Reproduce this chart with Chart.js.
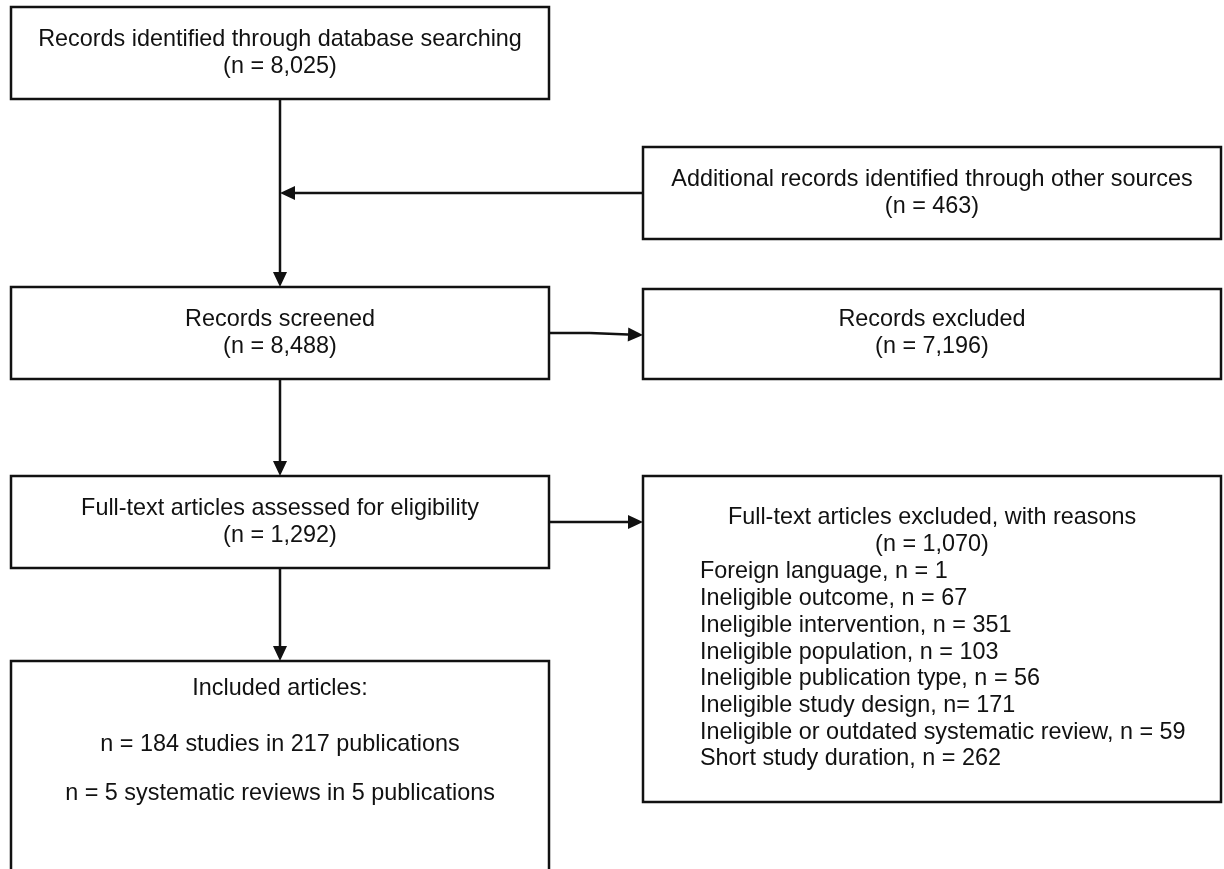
<!DOCTYPE html>
<html>
<head>
<meta charset="utf-8">
<script src="https://cdn.jsdelivr.net/npm/chart.js@4.4.1/dist/chart.umd.min.js"></script>
<style>
  body { margin: 0; background: #fff; }
  #flow { display: block; }
</style>
</head>
<body>
<canvas id="flow" width="1224" height="869"></canvas>
<script>
// stage texts and counts
const stageLabels = [
  'Records identified through database searching',
  'Additional records identified through other sources',
  'Records screened',
  'Records excluded',
  'Full-text articles assessed for eligibility',
  'Full-text articles excluded, with reasons'
];
const stageCounts = [8025, 463, 8488, 7196, 1292, 1070];

// exclusion reasons
const reasonLabels = [
  'Foreign language',
  'Ineligible outcome',
  'Ineligible intervention',
  'Ineligible population',
  'Ineligible publication type',
  'Ineligible study design',
  'Ineligible or outdated systematic review',
  'Short study duration'
];
const reasonCounts = [1, 67, 351, 103, 56, 171, 59, 262];
const reasonEq = [' = ', ' = ', ' = ', ' = ', ' = ', '= ', ' = ', ' = '];

// included
const includedTitle = 'Included articles:';
const includedStudies = [184, 217];
const includedReviews = [5, 5];

const fmt = n => n.toLocaleString('en-US');

// box layout in axis units (x 0..1224, y 0..869 top-down)
const boxes = [
  { x0: 11, x1: 549, y0: 7, y1: 99 },
  { x0: 643, x1: 1221, y0: 147, y1: 239 },
  { x0: 11, x1: 549, y0: 287, y1: 379 },
  { x0: 643, x1: 1221, y0: 289, y1: 379 },
  { x0: 11, x1: 549, y0: 476, y1: 568 },
  { x0: 643, x1: 1221, y0: 476, y1: 802 },
  { x0: 11, x1: 549, y0: 661, y1: 880 }
];

const FONT = '23.4px "Liberation Sans", Arial, sans-serif';
const LINE = 26.7;

const flowPlugin = {
  id: 'flow',
  afterDatasetsDraw(chart) {
    const ctx = chart.ctx;
    const sx = chart.scales.x, sy = chart.scales.y;
    const X = v => sx.getPixelForValue(v);
    const Y = v => sy.getPixelForValue(v);

    ctx.save();
    ctx.strokeStyle = '#111';
    ctx.fillStyle = '#111';
    ctx.lineWidth = 2.5;

    boxes.forEach(b => {
      ctx.strokeRect(X(b.x0), Y(b.y0), X(b.x1) - X(b.x0), Y(b.y1) - Y(b.y0));
    });

    function arrow(x0, y0, x1, y1) {
      const px0 = X(x0), py0 = Y(y0), px1 = X(x1), py1 = Y(y1);
      const ang = Math.atan2(py1 - py0, px1 - px0);
      const len = 15, half = 7;
      ctx.beginPath();
      ctx.moveTo(px0, py0);
      ctx.lineTo(px1 - Math.cos(ang) * len, py1 - Math.sin(ang) * len);
      ctx.stroke();
      ctx.beginPath();
      ctx.moveTo(px1, py1);
      ctx.lineTo(px1 - Math.cos(ang) * len - Math.sin(ang) * half, py1 - Math.sin(ang) * len + Math.cos(ang) * half);
      ctx.lineTo(px1 - Math.cos(ang) * len + Math.sin(ang) * half, py1 - Math.sin(ang) * len - Math.cos(ang) * half);
      ctx.closePath();
      ctx.fill();
    }

    const midL = 280;
    arrow(midL, boxes[0].y1, midL, boxes[2].y0);
    arrow(boxes[1].x0, 193, midL, 193);
    // slight bend on the screened -> excluded arrow
    ctx.beginPath();
    ctx.moveTo(X(boxes[2].x1), Y(333));
    ctx.lineTo(X(590), Y(333));
    ctx.stroke();
    arrow(590, 333, boxes[3].x0, 335);
    arrow(midL, boxes[2].y1, midL, boxes[4].y0);
    arrow(boxes[4].x1, 522, boxes[5].x0, 522);
    arrow(midL, boxes[4].y1, midL, boxes[6].y0);

    ctx.font = FONT;
    ctx.textBaseline = 'middle';
    ctx.textAlign = 'center';
    const centerText = (bi, lines, y) => {
      const b = boxes[bi];
      const cx = X((b.x0 + b.x1) / 2);
      lines.forEach((t, i) => ctx.fillText(t, cx, Y(y + i * LINE)));
    };
    const two = i => [stageLabels[i], '(n = ' + fmt(stageCounts[i]) + ')'];
    centerText(0, two(0), 40);
    centerText(1, two(1), 180);
    centerText(2, two(2), 320);
    centerText(3, two(3), 320);
    centerText(4, two(4), 509);
    centerText(5, two(5), 518);

    const b7 = boxes[6];
    const c7 = X((b7.x0 + b7.x1) / 2);
    ctx.fillText(includedTitle, c7, Y(689));
    ctx.fillText('n = ' + includedStudies[0] + ' studies in ' + includedStudies[1] + ' publications', c7, Y(745));
    ctx.fillText('n = ' + includedReviews[0] + ' systematic reviews in ' + includedReviews[1] + ' publications', c7, Y(794));

    ctx.textAlign = 'left';
    reasonLabels.forEach((r, i) => {
      ctx.fillText(r + ', n' + reasonEq[i] + reasonCounts[i], X(700), Y(572 + i * LINE));
    });
    ctx.restore();
  }
};

new Chart(document.getElementById('flow').getContext('2d'), {
  type: 'scatter',
  data: { datasets: [{ data: [], pointRadius: 0 }] },
  options: {
    responsive: false,
    animation: false,
    layout: { padding: 0 },
    plugins: { legend: { display: false }, tooltip: { enabled: false } },
    scales: {
      x: { type: 'linear', min: 0, max: 1224, display: false },
      y: { type: 'linear', min: 0, max: 869, reverse: true, display: false }
    }
  },
  plugins: [flowPlugin]
});
</script>
</body>
</html>
